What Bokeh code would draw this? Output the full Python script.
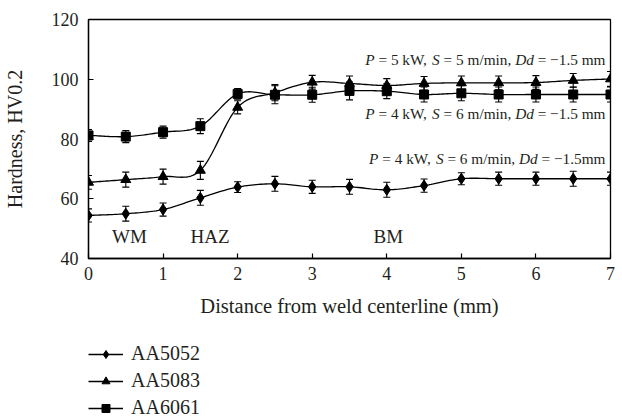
import numpy as np
from bokeh.plotting import figure
from bokeh.layouts import column
from bokeh.models import (ColumnDataSource, Whisker, TeeHead, Label, Legend,
                          LegendItem, Range1d, FixedTicker)
from bokeh.embed import file_html
from bokeh.resources import INLINE

# ---------------- data ----------------
distance = [0, 0.5, 1, 1.5, 2, 2.5, 3, 3.5, 4, 4.5, 5, 5.5, 6, 6.5, 7]
aa5052 = [54.4, 55.0, 56.4, 60.3, 63.9, 65.0, 64.0, 64.0, 63.0, 64.4, 66.7, 66.7, 66.7, 66.7, 66.7]
aa5052_err = [2.2, 2.5, 2.2, 2.5, 1.8, 2.5, 2.2, 2.5, 2.5, 2.2, 2.0, 2.2, 2.2, 2.5, 2.2]
aa5083 = [65.5, 66.4, 67.4, 69.5, 90.6, 95.5, 99.0, 98.6, 97.9, 98.6, 98.8, 98.8, 98.9, 99.6, 100.1]
aa5083_err = [2.3, 2.5, 2.5, 3.0, 2.2, 2.7, 2.3, 2.5, 2.3, 2.3, 2.3, 2.3, 2.3, 2.3, 2.5]
aa6061 = [81.2, 80.8, 82.3, 84.3, 95.1, 94.8, 94.8, 96.1, 96.0, 94.9, 95.3, 94.9, 94.9, 94.9, 94.9]
aa6061_err = [2.0, 2.0, 2.0, 2.5, 1.8, 3.0, 2.5, 3.0, 2.5, 2.5, 2.5, 2.5, 2.5, 2.5, 2.5]

series_names = ["AA5052", "AA5083", "AA6061"]
x_ticks = [0, 1, 2, 3, 4, 5, 6, 7]
y_ticks = [40, 60, 80, 100, 120]
zone_labels = ["WM", "HAZ", "BM"]
zone_x = [0.55, 1.63, 4.02]
zone_y = 47.4
cond_lines = [
    [("P", True), (" = 5 kW, ", False), ("S", True), (" = 5 m/min, ", False), ("Dd", True), (" = \u22121.5 mm", False)],
    [("P", True), (" = 4 kW, ", False), ("S", True), (" = 6 m/min, ", False), ("Dd", True), (" = \u22121.5 mm", False)],
    [("P", True), (" = 4 kW, ", False), ("S", True), (" = 6 m/min, ", False), ("Dd", True), (" = \u22121.5mm", False)],
]
cond_y = [106.6, 88.5, 73.5]

FONT = "Liberation Serif"
INK = "#231f20"


def smooth(xs, ys, n=16):
    """Cubic Hermite (Catmull-Rom) curve through the data points, for drawing."""
    xs = np.asarray(xs, float)
    ys = np.asarray(ys, float)
    k = len(xs)
    m = np.zeros(k)
    for i in range(k):
        if i == 0:
            m[i] = (ys[1] - ys[0]) / (xs[1] - xs[0])
        elif i == k - 1:
            m[i] = (ys[-1] - ys[-2]) / (xs[-1] - xs[-2])
        else:
            m[i] = (ys[i + 1] - ys[i - 1]) / (xs[i + 1] - xs[i - 1])
    ox, oy = [], []
    for i in range(k - 1):
        h = xs[i + 1] - xs[i]
        t = np.linspace(0, 1, n, endpoint=(i == k - 2))
        h00 = 2 * t**3 - 3 * t**2 + 1
        h10 = t**3 - 2 * t**2 + t
        h01 = -2 * t**3 + 3 * t**2
        h11 = t**3 - t**2
        ox.extend(xs[i] + t * h)
        oy.extend(h00 * ys[i] + h10 * h * m[i] + h01 * ys[i + 1] + h11 * h * m[i + 1])
    return ox, oy


TOP_H = 328
p = figure(width=622, height=TOP_H, output_backend="svg", toolbar_location=None,
           x_range=Range1d(0, 7), y_range=Range1d(40, 120),
           min_border_left=87, min_border_right=12, min_border_top=19,
           min_border_bottom=TOP_H - 258)
p.background_fill_color = "white"
p.border_fill_color = "white"
p.outline_line_color = "black"
p.outline_line_width = 1.3
p.grid.visible = False

# axes
for ax in (p.xaxis[0], p.yaxis[0]):
    ax.axis_line_width = 1.3
    ax.axis_line_color = "black"
    ax.major_tick_in = 5
    ax.major_tick_out = 0
    ax.minor_tick_in = 0
    ax.minor_tick_out = 0
    ax.major_tick_line_width = 1.2
    ax.major_label_text_font = FONT
    ax.major_label_text_font_size = "18px"
    ax.major_label_text_color = INK
    ax.axis_label_text_font = FONT
    ax.axis_label_text_font_style = "normal"
    ax.axis_label_text_color = INK

p.xaxis.ticker = FixedTicker(ticks=x_ticks)
p.yaxis.ticker = FixedTicker(ticks=y_ticks)
p.xaxis.axis_label = "Distance from weld centerline (mm)"
p.yaxis.axis_label = "Hardness, HV0.2"
p.xaxis.axis_label_text_font_size = "20.5px"
p.yaxis.axis_label_text_font_size = "20px"
p.xaxis.major_label_standoff = 8
p.yaxis.major_label_standoff = 10
p.xaxis.axis_label_standoff = 12
p.yaxis.axis_label_standoff = 23

markers = ["diamond", "triangle", "square"]
sizes = [11, 10, 9]
values = [aa5052, aa5083, aa6061]
errs = [aa5052_err, aa5083_err, aa6061_err]

# legend figure below the chart (its ranges keep the proxy data out of view)
p2 = figure(width=622, height=417 - TOP_H, output_backend="svg",
            toolbar_location=None, x_axis_type=None, y_axis_type=None,
            x_range=Range1d(100, 101), y_range=Range1d(500, 501), min_border=0)
p2.outline_line_color = None
p2.grid.visible = False
p2.background_fill_color = "white"
p2.border_fill_color = "white"

items = []
for name, ys, er, mk, sz in zip(series_names, values, errs, markers, sizes):
    sx, sy = smooth(distance, ys)
    p.line(sx, sy, line_color="black", line_width=1.3)
    src = ColumnDataSource(dict(x=distance, y=ys,
                                upper=[v + e for v, e in zip(ys, er)],
                                lower=[v - e for v, e in zip(ys, er)]))
    w = Whisker(base="x", upper="upper", lower="lower", source=src,
                line_color="black", line_width=1.1,
                upper_head=TeeHead(size=7, line_color="black", line_width=1.1),
                lower_head=TeeHead(size=7, line_color="black", line_width=1.1))
    p.add_layout(w)
    p.scatter("x", "y", source=src, marker=mk, size=sz,
              fill_color="black", line_color="black")
    # legend proxies: same data, drawn in p2 outside its visible ranges
    lr2 = p2.line("x", "y", source=src, line_color="black", line_width=1.3)
    mr2 = p2.scatter("x", "y", source=src, marker=mk, size=sz - 1,
                     fill_color="black", line_color="black")
    items.append(LegendItem(label=name, renderers=[lr2, mr2]))

legend = Legend(items=items, location=(0, -2), orientation="vertical",
                border_line_color=None, background_fill_alpha=0,
                padding=0, spacing=4, margin=0,
                glyph_width=35, glyph_height=20, label_height=20,
                label_standoff=8, label_text_font=FONT,
                label_text_font_size="20px", label_text_color=INK)
p2.add_layout(legend)

# zone labels
for t, zx in zip(zone_labels, zone_x):
    p.add_layout(Label(x=zx, y=zone_y, text=t, text_font=FONT,
                       text_font_size="19px", text_color=INK,
                       text_align="center", text_baseline="middle"))

# condition annotations with italic symbols (Times metrics for layout)
WID = {' ': 250, '=': 564, '0': 500, '1': 500, '2': 500, '3': 500, '4': 500,
       '5': 500, '6': 500, '7': 500, '8': 500, '9': 500, 'k': 500, 'W': 944,
       ',': 250, 'm': 778, '/': 278, 'i': 278, 'n': 500, '\u2212': 564, '.': 250}
WID_IT = {'P': 611, 'S': 500, 'D': 722, 'd': 500}
FS = 15.3


def piece_width(s, italic):
    tbl = WID_IT if italic else WID
    return sum(tbl.get(c, WID.get(c, 500)) for c in s) * FS / 1000.0


for pieces, yy in zip(cond_lines, cond_y):
    total = sum(piece_width(s, it) for s, it in pieces)
    off = -5.0 - total
    for s, it in pieces:
        lead = len(s) - len(s.lstrip(' '))
        off += lead * WID[' '] * FS / 1000.0
        core = s.strip(' ')
        p.add_layout(Label(x=7, y=yy, x_offset=off, text=core, text_font=FONT,
                           text_font_size=f"{FS}px",
                           text_font_style="italic" if it else "normal",
                           text_color=INK, text_align="left",
                           text_baseline="middle"))
        off += piece_width(core, it)
        trail = len(s) - len(s.rstrip(' '))
        off += trail * WID[' '] * FS / 1000.0

layout = column(p, p2, spacing=0)
open("out.html", "w").write(file_html(layout, INLINE))
